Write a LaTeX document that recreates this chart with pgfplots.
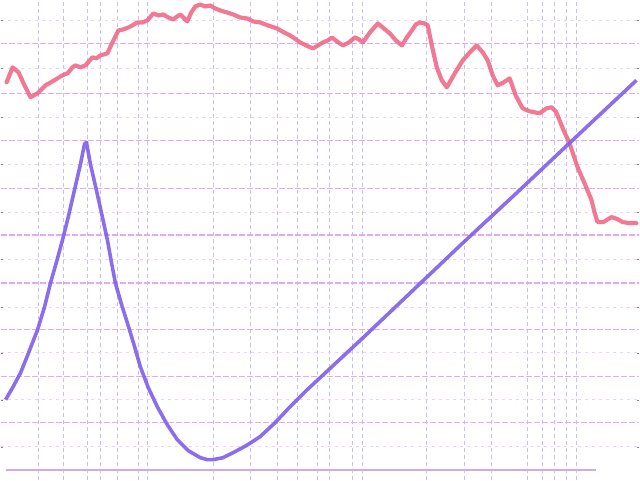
\documentclass[border=0pt]{standalone}
\usepackage{pgfplots}
\pgfplotsset{compat=1.18}
\definecolor{pinkline}{RGB}{240,98,128}
\definecolor{purpline}{RGB}{126,94,236}
\definecolor{vgrid}{RGB}{200,192,250}
\definecolor{hgrid}{RGB}{226,170,248}
\definecolor{hminor}{RGB}{238,208,250}
\definecolor{basec}{RGB}{205,170,236}
\begin{document}
\begin{tikzpicture}
\begin{axis}[
  scale only axis,
  width=640bp, height=480bp,
  xmin=0, xmax=640, ymin=0, ymax=480,
  axis line style={draw=none},
  xmajorticks=false, ymajorticks=false, yminorticks=false,
  xtick={38,63,87,100,117,138,147,213,250,277,297,317,330,353,363,427,465,492,528,543,555,567,577},
  ytick={57,103,150,197,245,292,340,387,437},
  minor ytick={33,80,127,173,221,268,316,363,412,460},
  xmajorgrids, ymajorgrids, yminorgrids,
  x grid style={vgrid, line width=1pt, dash pattern=on 4pt off 3pt},
  y grid style={hgrid, line width=1.2pt, dash pattern=on 6pt off 2pt},
  minor y grid style={hminor, line width=0.8pt, dash pattern=on 3pt off 4pt},
]
% baseline
\addplot[basec, line width=2pt] coordinates {(5,10) (597,10)};
% pink noisy line
\addplot[pinkline, line width=4.2pt, line join=round, line cap=round, opacity=0.85] coordinates {
(6,398) (12,413) (18,408) (23,397) (30,383) (37,387) (45,395) (52,399) (57,402) (62,405) (67,407) (72,413) (75,415) (80,413) (85,415) (92,423) (96,422) (100,425) (107,427) (112,438) (118,450) (123,451) (128,453) (132,455) (137,458) (142,458) (147,460) (153,467) (158,465) (163,466) (168,463) (173,461) (177,464) (180,466) (184,462) (187,459) (191,468) (195,474) (200,476) (205,474) (210,475) (215,472) (220,470) (227,468) (233,466) (240,463) (247,462) (253,459) (260,458) (268,455) (277,452) (284,448) (290,445) (296,441) (300,438) (306,435) (313,432) (318,435) (323,438) (328,440) (332,443) (337,439) (343,435) (349,438) (355,443) (359,441) (363,438) (370,448) (378,457) (384,452) (390,447) (396,440) (402,435) (407,443) (412,450) (416,456) (420,458) (425,457) (428,455) (432,435) (437,413) (442,400) (447,393) (455,407) (463,420) (470,428) (477,435) (483,428) (488,420) (493,405) (498,395) (504,398) (510,402) (516,385) (523,372) (530,369) (540,367) (547,372) (552,373) (556,369) (558,365) (564,350) (570,337) (574,325) (578,313) (585,297) (592,280) (595,268) (598,258) (604,258) (612,263) (618,261) (623,258) (630,257) (637,257)
};
% purple line
\addplot[purpline, line width=3.6pt, line join=round, opacity=0.9] coordinates {
(5,80) (12,92) (20,107) (28,127) (37,150) (44,173) (50,197) (56,218) (62,240) (68,264) (74,290) (80,316) (84,336) (86,338) (90,316) (96,290) (102,263) (107,240) (111,218) (115,197) (121,176) (127,157) (134,134) (140,113) (148,92) (157,73) (167,55) (177,40) (188,29) (200,22) (207,20) (213,20) (223,22) (233,27) (246,34) (260,43) (275,57) (290,73) (305,88) (320,102) (363,142) (423,199) (463,237) (520,290) (573,340) (637,400)
};
\end{axis}
\end{tikzpicture}
\end{document}
